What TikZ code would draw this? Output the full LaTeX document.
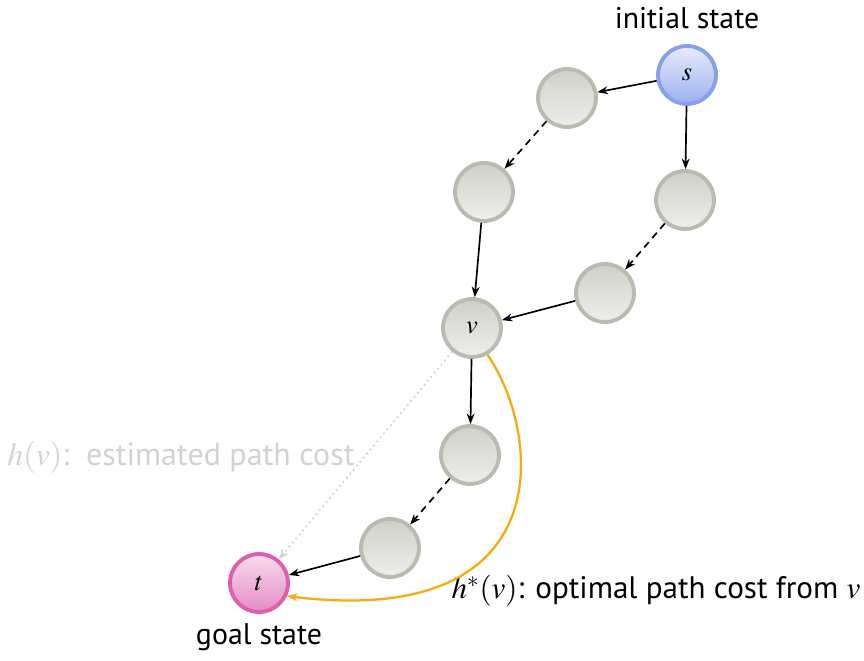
\documentclass[tikz,border=0pt]{standalone}
\usepackage{mathptmx}
\usepackage{fontspec}
\setmainfont{PT Sans}
\usepackage{tikz}
\usetikzlibrary{arrows.meta}

\definecolor{grayrim}{RGB}{184,188,174}
\definecolor{graytop}{RGB}{206,208,200}
\definecolor{graybot}{RGB}{238,239,235}
\definecolor{bluerim}{RGB}{135,160,236}
\definecolor{bluetop}{RGB}{232,236,252}
\definecolor{bluebot}{RGB}{155,175,240}
\definecolor{pinkrim}{RGB}{222,95,172}
\definecolor{pinktop}{RGB}{248,220,236}
\definecolor{pinkbot}{RGB}{228,140,196}
\definecolor{pathorange}{RGB}{250,170,10}
\definecolor{hintgray}{RGB}{210,210,210}

\begin{document}
\begin{tikzpicture}[x=0.02cm, y=-0.02cm, >={Stealth[length=6pt,width=4.5pt]},
  state/.style={circle, minimum size=1.16cm, inner sep=0pt, line width=2.2pt, draw=grayrim, top color=graytop, bottom color=graybot, font=\fontsize{15}{17}\selectfont},
  start/.style={state, draw=bluerim, top color=bluetop, bottom color=bluebot},
  goal/.style={state, draw=pinkrim, top color=pinktop, bottom color=pinkbot},
  lbl/.style={font=\fontsize{17}{20}\selectfont, inner sep=0pt},
  edge/.style={->, line width=0.95pt},
  dashededge/.style={edge, dash pattern=on 4pt off 3pt}]
  \useasboundingbox (0,0) rectangle (864,661);

  % states along the two routes from s to t
  \node[start] (s) at (687,75) {$s$};
  \node[state] (a1) at (567,98) {};
  \node[state] (a2) at (484,192) {};
  \node[state] (b1) at (685,200) {};
  \node[state] (b2) at (605,293) {};
  \node[state] (v) at (472,328) {$v$};
  \node[state] (c1) at (470,455) {};
  \node[state] (c2) at (390,548) {};
  \node[goal] (t) at (259,583) {$t$};

  % labels
  \node[lbl] (init) at (687,18) {initial state};
  \node[lbl] (goallbl) at (259,637) {goal state};
  \node[lbl, font=\fontsize{18.2}{21}\selectfont, text=hintgray] (hest) at (181,458) {$h(v)$:\, estimated path cost};
  \node[lbl, font=\fontsize{17.7}{21}\selectfont] (hopt) at (656,591) {$h^*(v)$: optimal path cost from $v$};

  % edges
  \draw[edge] (s) -- (a1);
  \draw[edge] (s) -- (b1);
  \draw[dashededge] (a1) -- (a2);
  \draw[dashededge] (b1) -- (b2);
  \draw[edge] (a2) -- (v);
  \draw[edge] (b2) -- (v);
  \draw[edge] (v) -- (c1);
  \draw[dashededge] (c1) -- (c2);
  \draw[edge] (c2) -- (t);

  % estimated and optimal cost from v
  \draw[->, hintgray, line width=1pt, dotted] (v) -- (t);
  \draw[->, pathorange, line width=1.3pt] (v.-60) .. controls (540,430) and (565,630) .. (t.-25);
\end{tikzpicture}
\end{document}
